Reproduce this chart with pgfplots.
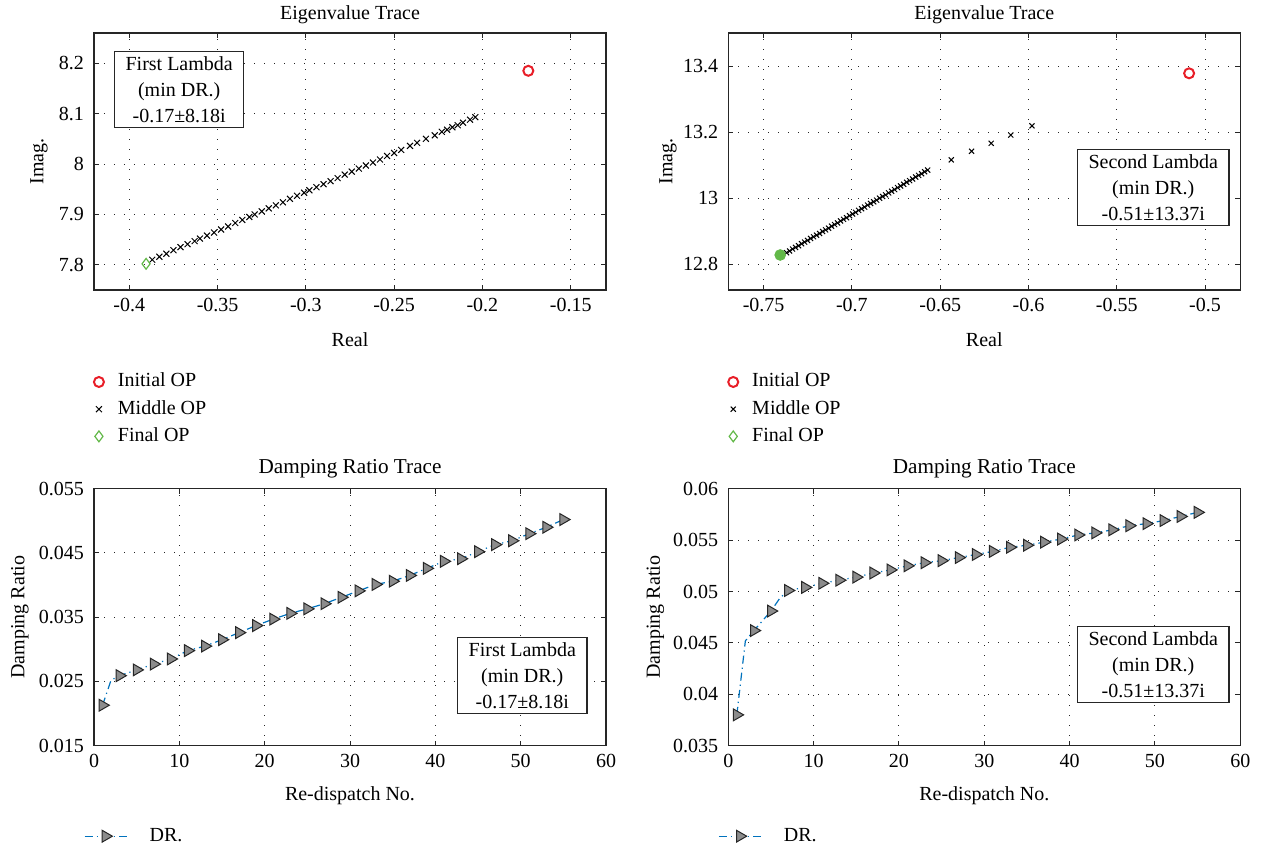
\documentclass[border=0pt]{standalone}
\usepackage{fontspec}
\setmainfont{Liberation Serif}
\usepackage{pgfplots}
\usepackage{pgfplotstable}
\pgfplotsset{compat=1.18}
\definecolor{opred}{RGB}{232,30,40}
\definecolor{opgreen}{RGB}{98,184,72}
\definecolor{lineblue}{RGB}{0,114,189}
\definecolor{mkgray}{RGB}{140,140,140}
\definecolor{axgray}{RGB}{38,38,38}

\pgfplotstableread{
x y
1 0.0213
2 0.0252
3 0.0259
5 0.0268
7 0.0277
9 0.0285
11 0.0298
13 0.0305
15 0.0315
17 0.0326
19 0.0337
21 0.0347
23 0.0356
25 0.0363
27 0.0371
29 0.0381
31 0.0391
33 0.0401
35 0.0406
37 0.0415
39 0.0426
41 0.0437
43 0.0441
45 0.0452
47 0.0463
49 0.0469
51 0.0480
53 0.0490
55 0.0502
}\drlineA
\pgfplotstableread{
x y
1 0.0213
3 0.0259
5 0.0268
7 0.0277
9 0.0285
11 0.0298
13 0.0305
15 0.0315
17 0.0326
19 0.0337
21 0.0347
23 0.0356
25 0.0363
27 0.0371
29 0.0381
31 0.0391
33 0.0401
35 0.0406
37 0.0415
39 0.0426
41 0.0437
43 0.0441
45 0.0452
47 0.0463
49 0.0469
51 0.0480
53 0.0490
55 0.0502
}\drmarkA
\pgfplotstableread{
x y
1 0.0380
2 0.0452
3 0.0462
5 0.0481
6 0.0493
7 0.0501
9 0.0504
11 0.0508
13 0.0511
15 0.0514
17 0.0518
19 0.0521
21 0.0525
23 0.0528
25 0.0530
27 0.0533
29 0.0536
31 0.0539
33 0.0543
35 0.0545
37 0.0548
39 0.0551
41 0.0555
43 0.0557
45 0.0560
47 0.0564
49 0.0566
51 0.0569
53 0.0573
55 0.0577
}\drlineB
\pgfplotstableread{
x y
1 0.0380
3 0.0462
5 0.0481
7 0.0501
9 0.0504
11 0.0508
13 0.0511
15 0.0514
17 0.0518
19 0.0521
21 0.0525
23 0.0528
25 0.0530
27 0.0533
29 0.0536
31 0.0539
33 0.0543
35 0.0545
37 0.0548
39 0.0551
41 0.0555
43 0.0557
45 0.0560
47 0.0564
49 0.0566
51 0.0569
53 0.0573
55 0.0577
}\drmarkB

\tikzset{
  boxnode/.style={draw=axgray, fill=white, line width=0.6pt, align=center,
    font=\fontsize{10}{13}\selectfont, inner xsep=5.5pt, inner ysep=2.5pt},
}
\pgfplotsset{
  mstyle/.style={
    scale only axis, width=256pt, height=128.5pt,
    axis line style={draw=axgray, line width=0.6pt},
    every tick/.style={axgray, line width=0.5pt},
    tick align=inside, major tick length=2.5pt,
    grid=major,
    grid style={black!85, line width=0.5pt, dash pattern=on 0.5pt off 4.5pt},
    /pgf/number format/assume math mode=true,
    ticklabel style={font=\fontsize{10}{12}\selectfont, text=black},
    label style={font=\fontsize{10}{12}\selectfont},
    every axis title shift=0pt,
    title style={anchor=center},
    xlabel style={at={(axis description cs:0.5,-0.195)}, anchor=center},
    yticklabel style={xshift=-1.5pt},
    xticklabel style={yshift=-0.8pt},
    scaled ticks=false,
    legend cell align=left,
  },
  toplegend/.style={
    legend style={at={(axis description cs:-0.006,-0.305)}, anchor=north west,
      draw=none, fill=none, inner sep=0pt, outer sep=0pt,
      font=\fontsize{10}{12}\selectfont,
      nodes={text height=7pt, text depth=2pt, inner ysep=2.3pt}, row sep=0pt},
    legend image code/.code={\path[draw=none, fill=none] (-4pt,-3pt) rectangle (7.5pt,3pt); \draw[##1] plot coordinates {(0pt,0pt)};},
  },
  botlegend/.style={
    legend style={at={(axis description cs:-0.0195,-0.30)}, anchor=north west,
      draw=none, fill=none, inner sep=0pt, outer sep=0pt,
      font=\fontsize{10}{12}\selectfont,
      nodes={text height=7pt, text depth=2pt, inner ysep=2.2pt}, row sep=0pt},
    legend image code/.code={\draw[lineblue, line width=0.6pt, dash pattern=on 4pt off 2pt on 0.6pt off 2pt] (0pt,0pt) -- (23pt,0pt); \draw[##1] plot coordinates {(10.5pt,0pt)}; \path[draw=none, fill=none] (0pt,-3pt) rectangle (30.5pt,3pt);},
  },
}

\begin{document}
\begin{tikzpicture}
\path[use as bounding box] (0,0) rectangle (639.5pt,426pt);

% ---------------- Top left ----------------
\begin{axis}[mstyle, toplegend, at={(47pt,281pt)}, anchor=south west,
  xmin=-0.42, xmax=-0.13, ymin=7.75, ymax=8.26,
  xtick={-0.4,-0.35,-0.3,-0.25,-0.2,-0.15},
  ytick={7.8,7.9,8,8.1,8.2},
  title={Eigenvalue Trace},
  title style={at={(axis description cs:0.5,1.072)}, font=\fontsize{10}{12}\selectfont},
  xlabel={Real}, ylabel={Imag.},
  ylabel style={at={(axis description cs:-0.1074,0.5)}, anchor=center},
]
\addplot[only marks, mark=o, mark size=2.5pt, opred, line width=1pt] coordinates {(-0.174,8.185)};
\addplot[only marks, mark=x, mark size=2.1pt, black, line width=0.5pt] coordinates {
(-0.387,7.810) (-0.383,7.816) (-0.379,7.822) (-0.375,7.829) (-0.371,7.835)
(-0.367,7.841) (-0.363,7.847) (-0.360,7.852) (-0.356,7.858) (-0.352,7.864)
(-0.348,7.870) (-0.344,7.876) (-0.340,7.883) (-0.336,7.889) (-0.332,7.895)
(-0.329,7.900) (-0.325,7.906) (-0.321,7.912) (-0.317,7.918) (-0.313,7.924)
(-0.309,7.931) (-0.305,7.937) (-0.301,7.943) (-0.298,7.948) (-0.294,7.954)
(-0.290,7.960) (-0.286,7.966) (-0.282,7.972) (-0.278,7.979) (-0.274,7.985)
(-0.270,7.991) (-0.266,7.997) (-0.262,8.003) (-0.258,8.009) (-0.254,8.016)
(-0.250,8.022) (-0.246,8.028) (-0.241,8.036) (-0.237,8.042) (-0.232,8.050)
(-0.227,8.057) (-0.223,8.064) (-0.220,8.068) (-0.217,8.073) (-0.214,8.077)
(-0.211,8.082) (-0.207,8.088) (-0.204,8.093)};
\addplot[only marks, mark=diamond, mark size=2.7pt, opgreen, line width=0.6pt] coordinates {(-0.3905,7.802)};
\legend{Initial OP, Middle OP, Final OP}
\node[boxnode] at (axis description cs:0.1664,0.781) {First Lambda\\(min DR.)\\-0.17±8.18i};
\end{axis}

% ---------------- Top right ----------------
\begin{axis}[mstyle, toplegend, at={(364.15pt,281pt)}, anchor=south west,
  xmin=-0.77, xmax=-0.48, ymin=12.722, ymax=13.5,
  xtick={-0.75,-0.7,-0.65,-0.6,-0.55,-0.5},
  ytick={12.8,13,13.2,13.4},
  title={Eigenvalue Trace},
  title style={at={(axis description cs:0.5,1.072)}, font=\fontsize{10}{12}\selectfont},
  xlabel={Real}, ylabel={Imag.},
  ylabel style={at={(axis description cs:-0.118,0.5)}, anchor=center},
]
\addplot[only marks, mark=o, mark size=2.5pt, opred, line width=1pt] coordinates {(-0.509,13.378)};
\addplot[only marks, mark=x, mark size=1.8pt, black, line width=0.5pt] coordinates {
(-0.7370,12.835) (-0.7353,12.840) (-0.7336,12.846) (-0.7319,12.851) (-0.7302,12.856)
(-0.7285,12.862) (-0.7268,12.867) (-0.7251,12.872) (-0.7234,12.878) (-0.7217,12.883)
(-0.7200,12.888) (-0.7183,12.893) (-0.7166,12.899) (-0.7149,12.904) (-0.7132,12.909)
(-0.7115,12.915) (-0.7098,12.920) (-0.7081,12.925) (-0.7064,12.931) (-0.7047,12.936)
(-0.7030,12.941) (-0.7013,12.947) (-0.6996,12.952) (-0.6979,12.957) (-0.6962,12.963)
(-0.6945,12.968) (-0.6928,12.973) (-0.6911,12.979) (-0.6894,12.984) (-0.6877,12.989)
(-0.6860,12.994) (-0.6843,13.000) (-0.6826,13.005) (-0.6809,13.010) (-0.6792,13.016)
(-0.6775,13.021) (-0.6758,13.026) (-0.6741,13.032) (-0.6724,13.037) (-0.6707,13.042)
(-0.6690,13.048) (-0.6673,13.053) (-0.6656,13.058) (-0.6639,13.064) (-0.6622,13.069)
(-0.6605,13.074) (-0.6588,13.080) (-0.6571,13.085)
(-0.6437,13.116) (-0.6322,13.142) (-0.6211,13.166) (-0.6100,13.191) (-0.5980,13.219)};
\addplot[only marks, mark=*, mark size=2.7pt, opgreen, forget plot] coordinates {(-0.7406,12.828)};
\addlegendimage{only marks, mark=diamond, mark size=2.7pt, opgreen, line width=0.6pt}
\legend{Initial OP, Middle OP, Final OP}
\node[boxnode] at (axis description cs:0.830,0.398) {Second Lambda\\(min DR.)\\-0.51±13.37i};
\end{axis}

% ---------------- Bottom left ----------------
\begin{axis}[mstyle, botlegend, at={(47pt,53.15pt)}, anchor=south west,
  xmin=0, xmax=60, ymin=0.015, ymax=0.055,
  xtick={0,10,20,30,40,50,60},
  ytick={0.015,0.025,0.035,0.045,0.055},
  yticklabel style={/pgf/number format/fixed, /pgf/number format/precision=3},
  title={Damping Ratio Trace},
  title style={at={(axis description cs:0.5,1.0758)}, font=\fontsize{10.6}{13}\selectfont},
  xlabel={Re-dispatch No.}, ylabel={Damping Ratio},
  ylabel style={at={(axis description cs:-0.1445,0.5)}, anchor=center},
]
\addplot[lineblue, line width=0.6pt, dash pattern=on 4pt off 2pt on 0.6pt off 2pt, forget plot] table[x=x,y=y] {\drlineA};
\addplot[only marks, mark=triangle*, mark size=3.4pt, mark options={fill=mkgray, draw=axgray, line width=0.5pt, rotate=-90}] table[x=x,y=y] {\drmarkA};
\legend{DR.}
\node[boxnode] at (axis description cs:0.8365,0.274) {First Lambda\\(min DR.)\\-0.17±8.18i};
\end{axis}

% ---------------- Bottom right ----------------
\begin{axis}[mstyle, botlegend, at={(364.15pt,53.15pt)}, anchor=south west,
  xmin=0, xmax=60, ymin=0.035, ymax=0.06,
  xtick={0,10,20,30,40,50,60},
  ytick={0.035,0.04,0.045,0.05,0.055,0.06},
  yticklabel style={/pgf/number format/fixed, /pgf/number format/precision=3},
  title={Damping Ratio Trace},
  title style={at={(axis description cs:0.5,1.0758)}, font=\fontsize{10.6}{13}\selectfont},
  xlabel={Re-dispatch No.}, ylabel={Damping Ratio},
  ylabel style={at={(axis description cs:-0.1426,0.5)}, anchor=center},
]
\addplot[lineblue, line width=0.6pt, dash pattern=on 4pt off 2pt on 0.6pt off 2pt, forget plot] table[x=x,y=y] {\drlineB};
\addplot[only marks, mark=triangle*, mark size=3.4pt, mark options={fill=mkgray, draw=axgray, line width=0.5pt, rotate=-90}] table[x=x,y=y] {\drmarkB};
\legend{DR.}
\node[boxnode] at (axis description cs:0.830,0.317) {Second Lambda\\(min DR.)\\-0.51±13.37i};
\end{axis}
\end{tikzpicture}
\end{document}
